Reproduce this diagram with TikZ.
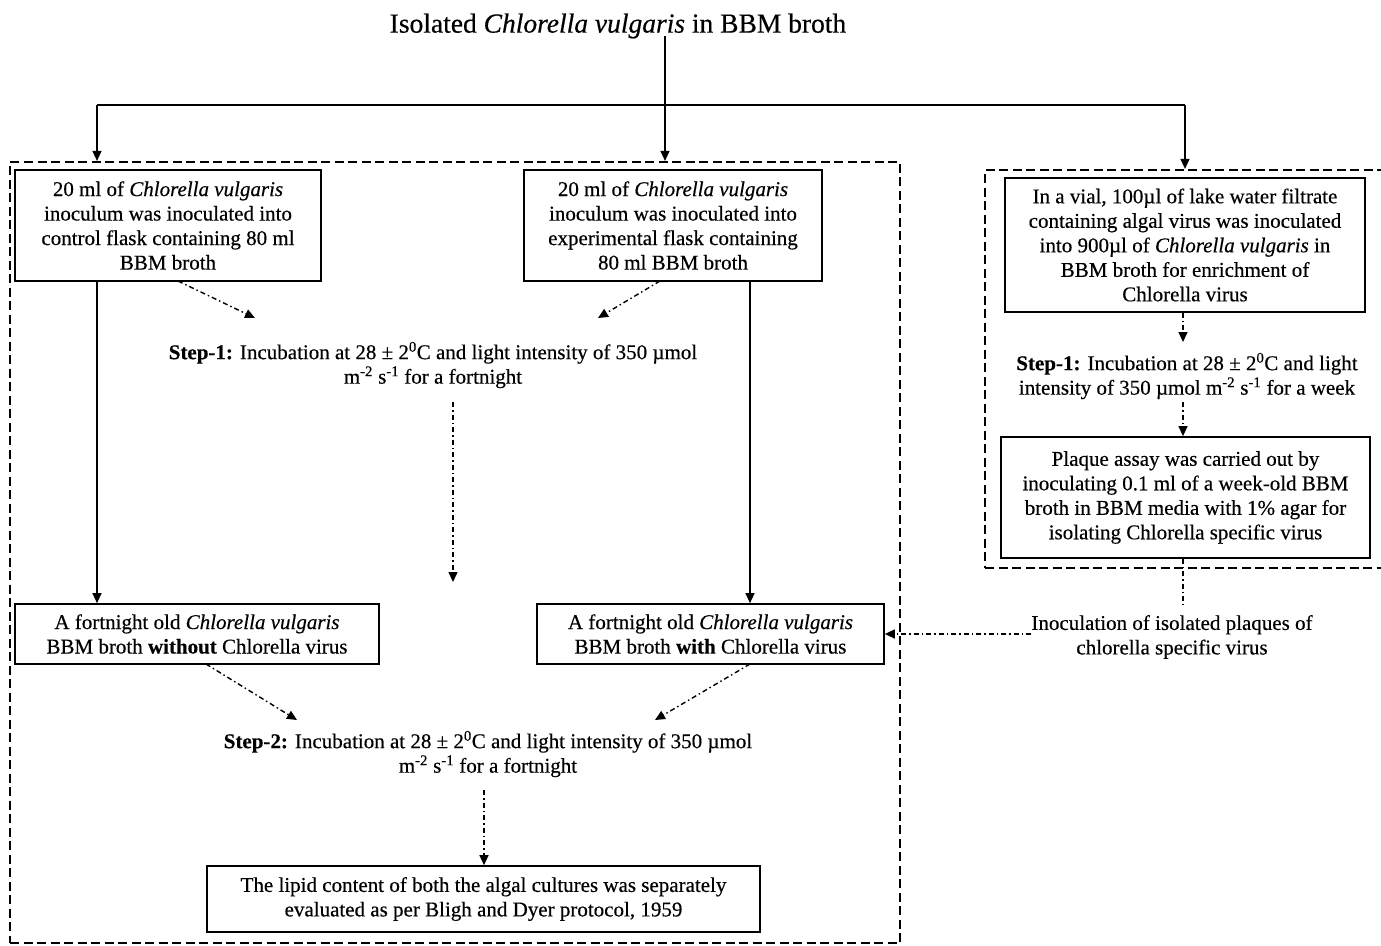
\documentclass[tikz,border=0pt]{standalone}
\usepackage{fontspec}
\setmainfont{Liberation Serif}[FakeBold=0.4]
\usetikzlibrary{arrows.meta}
\newcommand{\fsz}{\fontsize{21}{24.5}\selectfont}
\newcommand{\sx}[1]{\textsuperscript{#1}}
\tikzset{
  flowbox/.style={draw, line width=1.7pt, align=center, inner sep=0pt, font=\fsz},
  groupbox/.style={draw, line width=2.2pt, dash pattern=on 9pt off 4.5pt, inner sep=0pt},
  plain/.style={align=center, inner sep=0pt, font=\fsz},
  arr/.style={line width=1.3pt, -{Triangle[length=10pt,width=9pt]}},
  dd/.style={line width=1.4pt, dash pattern=on 5pt off 3pt on 1.5pt off 3pt},
  ddarr/.style={dd, -{Triangle[length=10pt,width=9pt]}}
}
\begin{document}
\begin{tikzpicture}[x=1pt,y=-1pt]
\useasboundingbox (0,0) rectangle (1381,945);
% group boxes
\node[groupbox, minimum width=890, minimum height=781] (L) at (455,552.5) {};
\node[groupbox, minimum width=420, minimum height=398] (R) at (1195,369) {};
% title
\node[plain, font=\fontsize{27.5}{30}\selectfont] (title) at (618,26) {Isolated \textit{Chlorella vulgaris} in BBM broth};
% boxes
\node[flowbox, minimum width=306, minimum height=111] (A) at (168,225.5)
  {20 ml of \textit{Chlorella vulgaris}\\inoculum was inoculated into\\control flask containing 80 ml\\BBM broth};
\node[flowbox, minimum width=298, minimum height=111] (B) at (673,225.5)
  {20 ml of \textit{Chlorella vulgaris}\\inoculum was inoculated into\\experimental flask containing\\80 ml BBM broth};
\node[plain] (S1) at (433,365)
  {\textbf{Step-1:} Incubation at 28 ± 2\sx{0}C and light intensity of 350 µmol\\m\sx{-2} s\sx{-1} for a fortnight};
\node[flowbox, minimum width=364, minimum height=60] (C) at (197,634)
  {A fortnight old \textit{Chlorella vulgaris}\\BBM broth \textbf{without} Chlorella virus};
\node[flowbox, minimum width=347, minimum height=60] (D) at (710.5,634)
  {A fortnight old \textit{Chlorella vulgaris}\\BBM broth \textbf{with} Chlorella virus};
\node[plain] (S2) at (488,754)
  {\textbf{Step-2:} Incubation at 28 ± 2\sx{0}C and light intensity of 350 µmol\\m\sx{-2} s\sx{-1} for a fortnight};
\node[flowbox, minimum width=553, minimum height=66] (E) at (483.5,899)
  {The lipid content of both the algal cultures was separately\\evaluated as per Bligh and Dyer protocol, 1959};
\node[flowbox, minimum width=360, minimum height=134] (F) at (1185,245)
  {In a vial, 100µl of lake water filtrate\\containing algal virus was inoculated\\into 900µl of \textit{Chlorella vulgaris} in\\BBM broth for enrichment of\\Chlorella virus};
\node[plain] (S1R) at (1187,376)
  {\textbf{Step-1:} Incubation at 28 ± 2\sx{0}C and light\\intensity of 350 µmol m\sx{-2} s\sx{-1} for a week};
\node[flowbox, minimum width=369, minimum height=121] (G) at (1185.5,497.5)
  {Plaque assay was carried out by\\inoculating 0.1 ml of a week-old BBM\\broth in BBM media with 1\% agar for\\isolating Chlorella specific virus};
\node[plain] (I) at (1172,637)
  {Inoculation of isolated plaques of\\chlorella specific virus};
% coordinates
\coordinate (t0) at (665,36);
\coordinate (j) at (665,105);
\coordinate (xl) at (97,0);
\coordinate (xr) at (1185,0);
\coordinate (xd) at (750,0);
\coordinate (a1) at (255,318);
\coordinate (b1) at (598,318);
\coordinate (s1e) at (453,582);
\coordinate (c1) at (297,720);
\coordinate (d1) at (655,720);
% solid connectors
\draw[line width=1.3pt] (t0) -- (j);
\draw[line width=1.3pt] (j -| xl) -- (j -| xr);
\draw[arr] (j -| xl) -- (L.north -| xl);
\draw[arr] (j) -- (L.north -| j);
\draw[arr] (j -| xr) -- (R.north -| xr);
\draw[arr] (A.south -| xl) -- (C.north -| xl);
\draw[arr] (B.south -| xd) -- (D.north -| xd);
% dash-dot connectors
\draw[ddarr] (178,281) -- (a1);
\draw[ddarr] (660,281) -- (b1);
\draw[ddarr] (453,402) -- (s1e);
\draw[ddarr] (206,664) -- (c1);
\draw[ddarr] (750,664) -- (d1);
\draw[ddarr] (484,790) -- (E.north -| 484,0);
\draw[ddarr] (F.south -| 1183,0) -- (1183,342);
\draw[ddarr] (1183,402) -- (G.north -| 1183,0);
\draw[dd] (G.south -| 1183,0) -- (1183,605);
\draw[ddarr] (I.west |- D.east) -- (D.east);
\end{tikzpicture}
\end{document}
